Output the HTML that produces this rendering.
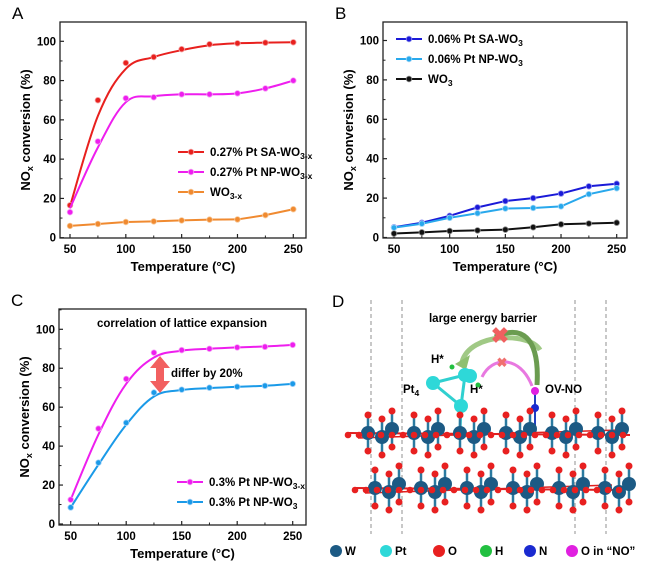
<!DOCTYPE html>
<html><head><meta charset="utf-8">
<style>
body{margin:0;background:#fff;width:645px;height:570px;overflow:hidden;font-family:"Liberation Sans",sans-serif}
svg{display:block}
text{font-family:"Liberation Sans",sans-serif}
.t{font-weight:bold;font-size:11.5px}
.at{font-weight:bold;font-size:13px}
.lg{font-weight:bold;font-size:11.5px}
.pl{font-size:17px}
</style></head>
<body>
<svg id="fig" width="645" height="570" viewBox="0 0 645 570"></svg>
<script>
const temps=[50,75,100,125,150,175,200,225,250];
const xTicks=[50,100,150,200,250];
const yTicks=[0,20,40,60,80,100];
// Panel A
const aSA=[16.5,70,89,92,96,98.5,99,99.3,99.5];
const aSAfit=[16,62,86,92,95.5,98,99,99.3,99.5];
const aNP=[13,49,71,71.5,73,73,73.5,76,80];
const aNPfit=[15,46,69,72,73,73,73.5,76,80];
const aWO=[6,7,8,8.3,8.8,9.2,9.3,11.5,14.5];
// Panel B
const bSA=[5.2,7.5,11,15.3,18.5,20,22.3,26,27.3];
const bNP=[5,7,10,12.3,14.7,15,15.8,22,25];
const bWO=[2,2.6,3.3,3.6,4,5.2,6.7,7.1,7.5];
// Panel C
const cX=[12.5,49,74.5,88,89.3,90,90.7,91,92];
const cXfit=[12.5,46,72,85.5,89,90,90.7,91.2,92];
const cW=[8.5,31.5,52,67.5,69,70,70.5,71,72];
const cWfit=[8.5,30.5,51,65.5,68.8,69.8,70.5,71,72];

const NS="http://www.w3.org/2000/svg";
const svg=document.getElementById('fig');
function el(tag,attrs,parent,txt){const e=document.createElementNS(NS,tag);for(const k in attrs)e.setAttribute(k,attrs[k]);if(txt!==undefined)e.innerHTML=txt;(parent||svg).appendChild(e);return e;}

function smoothPath(pts){
  let d=`M${pts[0][0]},${pts[0][1]}`;
  for(let i=0;i<pts.length-1;i++){
    const p0=pts[Math.max(0,i-1)],p1=pts[i],p2=pts[i+1],p3=pts[Math.min(pts.length-1,i+2)];
    const t=0.18;
    const c1=[p1[0]+(p2[0]-p0[0])*t,p1[1]+(p2[1]-p0[1])*t];
    const c2=[p2[0]-(p3[0]-p1[0])*t,p2[1]-(p3[1]-p1[1])*t];
    d+=` C${c1[0]},${c1[1]} ${c2[0]},${c2[1]} ${p2[0]},${p2[1]}`;
  }
  return d;
}

function panel(cfg){
  const g=el('g',{});
  
  
  const xs=v=>cfg.x0+(v-50)/200*(cfg.x1-cfg.x0);
  const ys=v=>cfg.y0+(v)/100*(cfg.y100-cfg.y0);
  const box=el('rect',{x:cfg.L,y:cfg.T,width:cfg.R-cfg.L,height:cfg.B-cfg.T,fill:'none',stroke:'#222','stroke-width':1.3},g);
  
  
  xTicks.forEach(v=>{
    el('line',{x1:xs(v),x2:xs(v),y1:cfg.B,y2:cfg.B-4,stroke:'#222','stroke-width':1.2},g);
    const t=el('text',{x:xs(v),y:cfg.B+15,'text-anchor':'middle',class:'t'},g,v);
    
    
  });
  for(let v=75;v<250;v+=50) el('line',{x1:xs(v),x2:xs(v),y1:cfg.B,y2:cfg.B-2.5,stroke:'#222','stroke-width':1},g);
  yTicks.forEach(v=>{
    el('line',{x1:cfg.L,x2:cfg.L+4,y1:ys(v),y2:ys(v),stroke:'#222','stroke-width':1.2},g);
    const t=el('text',{x:cfg.L-4,y:ys(v)+4,'text-anchor':'end',class:'t'},g,v);
    
    
  });
  for(let v=10;v<=110;v+=20) if(ys(v)>cfg.T) el('line',{x1:cfg.L,x2:cfg.L+2.5,y1:ys(v),y2:ys(v),stroke:'#222','stroke-width':1},g);
  const xt=el('text',{x:(cfg.L+cfg.R)/2,y:cfg.B+33,'text-anchor':'middle',class:'at'},g,'Temperature (°C)');
  
  
  const cy=(cfg.T+cfg.B)/2;
  const yt=el('text',{x:cfg.L-30,y:cy,'text-anchor':'middle',class:'at',transform:`rotate(-90 ${cfg.L-30} ${cy})`},g,'NO<tspan dy="3" font-size="9">x</tspan><tspan dy="-3"> conversion (%)</tspan>');
  
  
  const pl=el('text',{x:cfg.L-48,y:cfg.T-3,class:'pl'},g,cfg.letter);
  
  
  cfg.series.forEach(s=>{
    const line=(s.fit||s.vals).map((v,i)=>[xs(temps[i]),ys(v)]);
    const p=el('path',{d:s.fit?smoothPath(line):'M'+line.map(q=>q.join(',')).join(' L'),fill:'none',stroke:s.color,'stroke-width':2},g);
    
    
    s.vals.forEach((v,i)=>{
      const c=el('circle',{cx:xs(temps[i]),cy:ys(v),r:2.8,fill:s.color,stroke:s.light,'stroke-width':0.8},g);
      
      
    });
    if(s.lg){
      const [lx,ly]=s.lg;
      const lgE=el('g',{},g);
      
      
      el('line',{x1:lx,x2:lx+26,y1:ly,y2:ly,stroke:s.color,'stroke-width':2},lgE);
      el('circle',{cx:lx+13,cy:ly,r:2.8,fill:s.color,stroke:s.light,'stroke-width':0.8},lgE);
      el('text',{x:lx+32,y:ly+4,class:'lg'},lgE,s.label);
    }
  });
  return {g,xs,ys};
}
const sub3x='<tspan dy="3" font-size="8.5">3-x</tspan>';
const sub3='<tspan dy="3" font-size="8.5">3</tspan>';
panel({name:'panel-a',letter:'A',L:60,R:306,T:22,B:238,x0:70,x1:293.3,y0:237.7,y100:41.3,series:[
 {id:'sa-wo3x',vals:aSA,fit:aSAfit,color:'#e8201e',light:'#f5a0a0',label:'0.27% Pt SA-WO'+sub3x,lg:[178,152]},
 {id:'np-wo3x',vals:aNP,fit:aNPfit,color:'#ee1eee',light:'#f6a0f6',label:'0.27% Pt NP-WO'+sub3x,lg:[178,172]},
 {id:'wo3x',vals:aWO,color:'#f08a30',light:'#f8c898',label:'WO'+sub3x,lg:[178,192]}
]});
panel({name:'panel-b',letter:'B',L:383,R:627,T:22,B:238,x0:394,x1:616.7,y0:237.5,y100:40.5,series:[
 {id:'sa-wo3',vals:bSA,color:'#1a1ad8',light:'#9090f0',label:'0.06% Pt SA-WO'+sub3,lg:[396,39]},
 {id:'np-wo3',vals:bNP,color:'#28a8ec',light:'#a0d8f8',label:'0.06% Pt NP-WO'+sub3,lg:[396,59]},
 {id:'wo3',vals:bWO,color:'#111',light:'#888',label:'WO'+sub3,lg:[396,79]}
]});
const pc=panel({name:'panel-c',letter:'C',L:59,R:306,T:309,B:525,x0:70.7,x1:292.7,y0:524,y100:329.3,series:[
 {id:'np-wo3x-c',vals:cX,fit:cXfit,color:'#ee1eee',light:'#f6a0f6',label:'0.3% Pt NP-WO'+sub3x,lg:[177,482]},
 {id:'np-wo3-c',vals:cW,fit:cWfit,color:'#1a9ae8',light:'#a0d0f8',label:'0.3% Pt NP-WO'+sub3,lg:[177,502]}
]});
let t=el('text',{x:182,y:327,'text-anchor':'middle',class:'lg'},pc.g,'correlation of lattice expansion');


t=el('text',{x:171,y:377,class:'lg'},pc.g,'differ by 20%');


const arr=el('path',{d:'M160,356 L170,368 L164,368 L164,381 L170,381 L160,393 L150,381 L156,381 L156,368 L150,368 Z',fill:'#f26060'},pc.g);



// Panel D
const D=el('g',{});


el('text',{x:332,y:307,class:'pl'},D,'D');
[371,402,575,606].forEach(x=>el('line',{x1:x,x2:x,y1:300,y2:534,stroke:'#777','stroke-width':0.8,'stroke-dasharray':'4,3'},D));
el('text',{x:483,y:322,'text-anchor':'middle',class:'lg'},D,'large energy barrier');
// arrows
el('path',{d:'M540,350 C530,332 470,332 462,362',fill:'none',stroke:'#8fc070','stroke-width':5,opacity:0.85},D);
el('path',{d:'M455,364 L470,355 L466,370 Z',fill:'#8fc070'},D);
el('path',{d:'M495,337 C520,325 540,335 537,385',fill:'none',stroke:'#6b9c50','stroke-width':5},D);
el('path',{d:'M482,377 C492,356 520,355 532,386',fill:'none',stroke:'#e878e0','stroke-width':3},D);
el('text',{x:500,y:343,'text-anchor':'middle','font-size':'22','font-weight':'bold',fill:'#f06060'},D,'✖');
el('text',{x:502,y:367,'text-anchor':'middle','font-size':'13','font-weight':'bold',fill:'#f07070'},D,'✖');
// labels
el('text',{x:431,y:363,class:'lg'},D,'H*');
el('text',{x:470,y:393,class:'lg'},D,'H*');
el('text',{x:403,y:393,class:'lg'},D,'Pt<tspan dy="3" font-size="8.5">4</tspan>');
el('text',{x:545,y:393,class:'lg'},D,'OV-NO');
// Pt cluster
el('path',{d:'M433,383 L465,375 L461,406 Z M465,375 L461,406',stroke:'#30d0d0','stroke-width':3,fill:'none'},D);
el('line',{x1:461,y1:406,x2:460,y2:430,stroke:'#30d0d0','stroke-width':3},D);
[[433,383],[465,375],[470,376],[461,406]].forEach(p=>el('circle',{cx:p[0],cy:p[1],r:7,fill:'#2ed8d8'},D));
el('circle',{cx:452,cy:367,r:2.5,fill:'#22c040'},D);
el('circle',{cx:478,cy:385,r:2.5,fill:'#22c040'},D);
el('line',{x1:535,y1:391,x2:535,y2:430,stroke:'#2040c0','stroke-width':2},D);
el('circle',{cx:535,cy:391,r:4,fill:'#e020e0'},D);
el('circle',{cx:535,cy:408,r:4,fill:'#1a2ad0'},D);
// layers
[[433,348,630],[488,355,622]].forEach(([ly,x0,x1],k)=>{
  el('line',{x1:x0,x2:x1,y1:ly,y2:ly+2,stroke:'#e02020','stroke-width':2},D);
  el('line',{x1:x0+10,x2:x1-10,y1:ly+5,y2:ly-3,stroke:'#e02020','stroke-width':1.5},D);
  for(let x=x0+20;x<x1;x+=46){
    [[0,0],[14,4],[24,-4]].forEach(o=>{
      const cx=x+o[0],cy=ly+o[1];
      el('line',{x1:cx,x2:cx,y1:cy-18,y2:cy+18,stroke:'#2a7aa0','stroke-width':2.5},D);
      el('circle',{cx,cy,r:7,fill:'#1c5a84'},D);
      el('circle',{cx,cy:cy-18,r:3.5,fill:'#e82020'},D);
      el('circle',{cx,cy:cy+18,r:3.5,fill:'#e82020'},D);
    });
  }
  for(let x=x0;x<=x1;x+=11) el('circle',{cx:x,cy:ly+((x/11)%2?2:-2),r:3.3,fill:'#e82020'},D);
});
// legend
const leg=[['#1c5a84','W',330],['#2ed8d8','Pt',380],['#e82020','O',433],['#22c040','H',480],['#1a2ad0','N',524],['#e020e0','O in “NO”',566]];
leg.forEach(([c,l,x])=>{
  const g=el('g',{},D);
  
  
  el('circle',{cx:x+6,cy:551,r:6,fill:c},g);
  el('text',{x:x+15,y:555,class:'lg'},g,l);
});
</script>
</body></html>
